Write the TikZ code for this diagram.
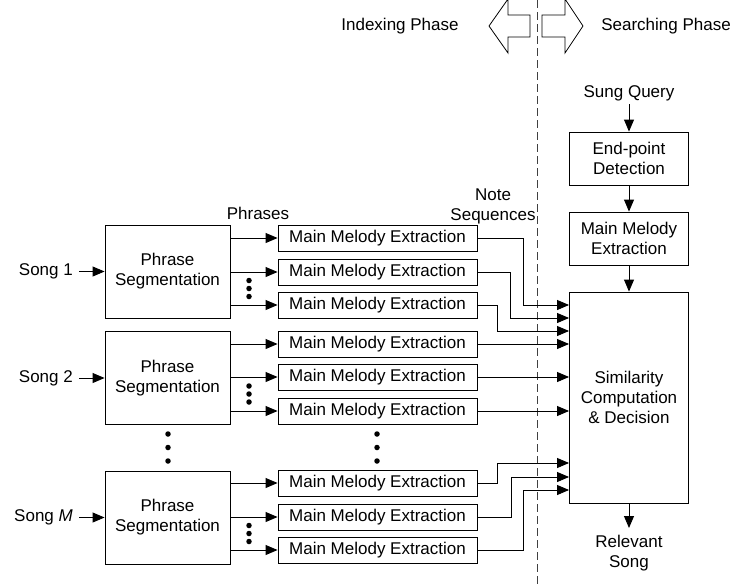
\documentclass[tikz,border=0pt]{standalone}
\usepackage{fontspec}
\setmainfont{Liberation Sans}
\usetikzlibrary{arrows.meta}
\begin{document}
\begin{tikzpicture}[x=1pt,y=-1pt,
  font=\fontsize{17}{20}\selectfont,
  every node/.style={align=center},
  box/.style={draw, line width=0.9pt, inner sep=0pt},
  phrbox/.style={box, minimum width=125pt, minimum height=93pt},
  mmebox/.style={box, minimum width=199pt, minimum height=26pt},
  rbox/.style={box, minimum width=119pt, minimum height=53pt},
  arr/.style={line width=0.9pt, -{Triangle[length=12pt,width=10pt]}},
  dot/.style={fill, circle, inner sep=0pt, minimum size=5.5pt},
  songlbl/.style={anchor=east, inner xsep=6pt, inner ysep=0pt},
  hollow/.style={draw, line width=0.8pt, line join=miter}
]
\useasboundingbox (0,0) rectangle (736,584);

% phase divider
\draw[line width=0.9pt, black!75, dash pattern=on 8pt off 4pt] (537,0) -- (537,584);
\draw[hollow] (489,26) -- (508,-1) -- (508,15) -- (530,15) -- (530,37) -- (508,37) -- (508,53) -- cycle;
\draw[hollow] (583,26) -- (565,-1) -- (565,15) -- (542,15) -- (542,37) -- (565,37) -- (565,53) -- cycle;
\node (idx) at (400,26) {Indexing Phase};
\node (srch) at (666,26) {Searching Phase};

% labels
\node (phr) at (258,213) {Phrases};
\node[inner sep=0pt] (ns) at (493,206) {Note\\Sequences};

% songs and phrase segmentation
\node[phrbox] (p1) at (167.5,271.5) {Phrase\\Segmentation};
\node[phrbox] (p2) at (167.5,378) {Phrase\\Segmentation};
\node[phrbox] (p3) at (167.5,517.5) {Phrase\\Segmentation};
\node[songlbl] (s1) at (79,271.5) {Song 1};
\node[songlbl] (s2) at (79,378) {Song 2};
\node[songlbl] (s3) at (79,517.5) {Song \textit{M}};
\draw[arr] (s1.east) -- (p1.west);
\draw[arr] (s2.east) -- (p2.west);
\draw[arr] (s3.east) -- (p3.west);

% main melody extraction boxes
\foreach \n/\y in {m11/238, m12/272, m13/305, m21/344, m22/377, m23/411, m31/483, m32/517, m33/550}{
  \node[mmebox] (\n) at (377.5,\y) {Main Melody Extraction};
}
\foreach \p/\m in {p1/m11, p1/m12, p1/m13, p2/m21, p2/m22, p2/m23, p3/m31, p3/m32, p3/m33}{
  \draw[arr] (\p.east |- \m.west) -- (\m.west);
}

% dots
\foreach \y in {280.5, 288.5, 296.5, 386, 394, 402, 525.5, 533.5, 541.5}{
  \node[dot] at (249,\y) {};
}
\foreach \y in {434, 447.5, 461}{
  \node[dot] at (168,\y) {};
  \node[dot] at (377,\y) {};
}

% right column
\node (q) at (629,93) {Sung Query};
\node[rbox] (ep) at (629,158.5) {End-point\\Detection};
\node[rbox] (mq) at (629,238.5) {Main Melody\\Extraction};
\node[box, minimum width=119pt, minimum height=211pt] (sim) at (629,397.5) {Similarity\\Computation\\\& Decision};
\node[anchor=north, inner xsep=1pt, inner ysep=7pt] (rs) at (629,528) {Relevant\\Song};
\draw[arr] (q.south) -- (ep.north);
\draw[arr] (ep.south) -- (mq.north);
\draw[arr] (mq.south) -- (sim.north);
\draw[arr] (sim.south) -- (rs.north);

% connections into similarity
\draw[arr] (m11.east) -- (523,238) |- (sim.west |- 0,305);
\draw[arr] (m12.east) -- (510,272) |- (sim.west |- 0,318);
\draw[arr] (m13.east) -- (497,305) |- (sim.west |- 0,331);
\draw[arr] (m21.east) -- (sim.west |- m21.east);
\draw[arr] (m22.east) -- (sim.west |- m22.east);
\draw[arr] (m23.east) -- (sim.west |- m23.east);
\draw[arr] (m31.east) -- (497,483) |- (sim.west |- 0,463);
\draw[arr] (m32.east) -- (511,517) |- (sim.west |- 0,477);
\draw[arr] (m33.east) -- (523,550) |- (sim.west |- 0,490);
\end{tikzpicture}
\end{document}
